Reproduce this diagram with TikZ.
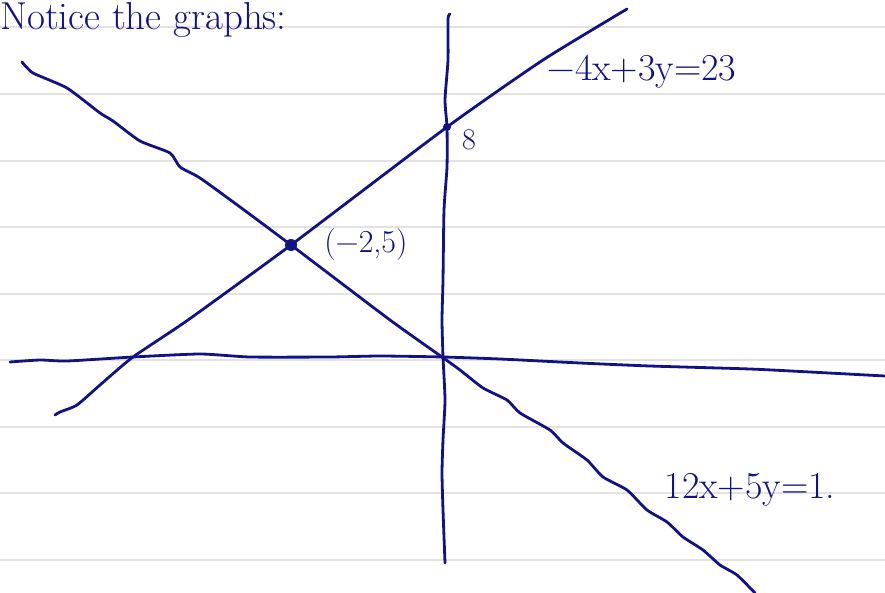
\documentclass[tikz,border=0pt]{standalone}
\usepackage{xcolor}
\usepackage{tikz}
\usetikzlibrary{positioning}
\definecolor{ink}{RGB}{18,18,130}
\definecolor{rule}{RGB}{226,226,226}

\begin{document}
\begin{tikzpicture}[x=1pt, y=-1pt,
  hand/.style={ink, line width=2.8pt, line cap=round, line join=round},
  ruled/.style={rule, line width=2.4pt},
  dot/.style={circle, fill=ink, inner sep=0pt, minimum size=#1},
  lbl/.style={ink, inner sep=0pt, font=\fontsize{#1}{#1}\selectfont}]
\useasboundingbox (0,0) rectangle (885,593);
\foreach \y in {27,94,161,227,294,360,427,493,560}
  \draw[ruled] (0,\y) -- (885,\y);
% axes
\draw[hand] plot[smooth, tension=0.35] coordinates {(10,362) (40,360) (67,361) (133,357) (200,354) (250,357) (330,357) (380,356) (443,357) (500,359) (580,363) (650,366) (750,369) (810,372) (885,376)};
\draw[hand] plot[smooth, tension=0.35] coordinates {(450,14) (448,19) (448,60) (445,100) (447,127) (447,167) (444,210) (443,280) (442,320) (443,357) (445,400) (443,440) (442,473) (443,510) (445,563)};
% the two lines
\node[dot=12pt] (meet) at (291,245) {};
\node[dot=8pt] (yint) at (447,127) {};
\draw[hand] plot[smooth, tension=0.35] coordinates {(55,415) (60,412) (77,405) (100,385) (133,357) (188,320) (291,245) (447,127) (543,60) (627,9)};
\draw[hand] plot[smooth, tension=0.35] coordinates {(22,62) (33,73) (67,88) (100,113) (113,121) (140,141) (170,153) (180,167) (200,178) (240,207) (291,245) (390,320) (442,357) (460,370) (483,388) (507,400) (520,413) (550,430) (563,443) (587,460) (603,477) (627,490) (647,510) (667,522) (683,537) (703,550) (720,565) (737,575) (755,593)};
% labels
\node[lbl=39, anchor=base west] (title) at (0,30) {Notice the graphs:};
\node[lbl=32, right=27pt of meet] (meetlbl) {(−2,5)};
\node[lbl=30, below right=0pt and 12pt of yint] (yintlbl) {8};
\node[lbl=38] (eqa) at (642,72) {−4x+3y=23};
\node[lbl=38] (eqb) at (750,490) {12x+5y=1.};
\end{tikzpicture}
\end{document}
